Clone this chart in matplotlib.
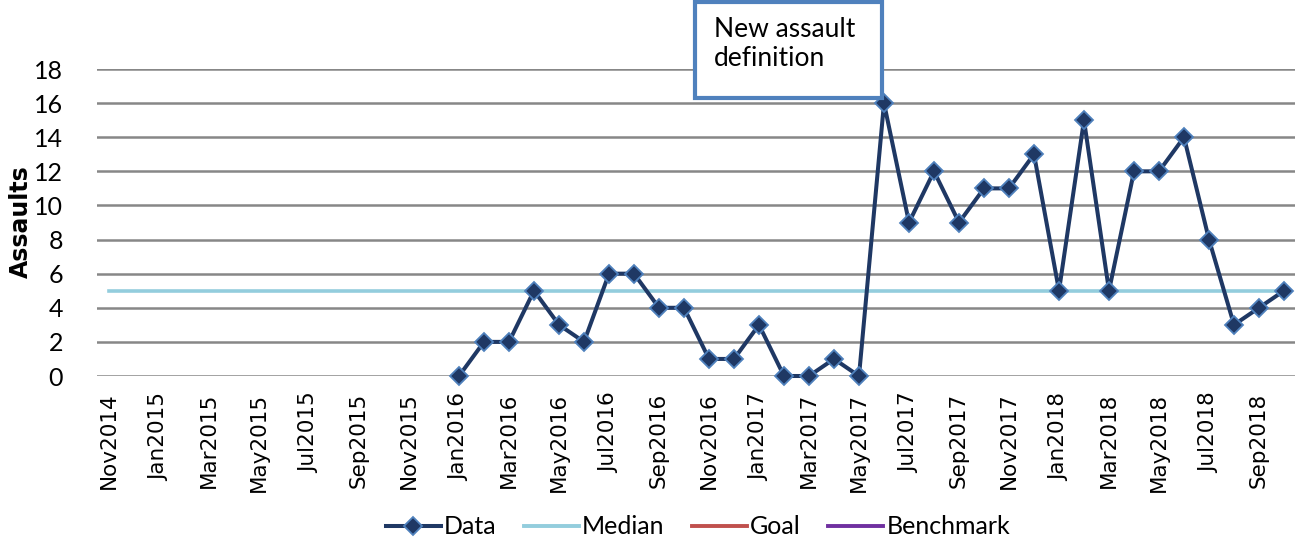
import numpy as np
import matplotlib.pyplot as plt
from matplotlib.patches import Rectangle
from matplotlib.lines import Line2D

# bulan Nov2014 .. Oct2018
month_names = ["Jan", "Feb", "Mar", "Apr", "May", "Jun", "Jul", "Aug", "Sep", "Oct", "Nov", "Dec"]
months = ["Nov2014", "Dec2014"]
for yr in (2015, 2016, 2017):
    months += [f"{m}{yr}" for m in month_names]
months += [f"{m}2018" for m in month_names[:10]]

# data mulai Jan2016 (14 bulan pertama kosong)
assaults = [np.nan] * 14 + [
    0, 2, 2, 5, 3, 2, 6, 6, 4, 4, 1, 1,      # 2016
    3, 0, 0, 1, 0, 16, 9, 12, 9, 11, 11, 13,  # 2017
    5, 15, 5, 12, 12, 14, 8, 3, 4, 5,         # 2018
]
median_value = 5
yticks = list(range(0, 20, 2))

label_font = "Lato"
navy = "#1F3864"
edge_blue = "#4F81BD"
median_col = "#93CDDD"
goal_col = "#C0504D"
bench_col = "#7030A0"

fig = plt.figure(figsize=(12.95, 5.43), dpi=100)
ax = fig.add_axes([96.5 / 1295, 1 - 376 / 543, 1200 / 1295, 307 / 543])

x = np.arange(len(months))
ax.plot(x, [median_value] * len(months), color=median_col, lw=2.6, zorder=2)
ax.plot(x, assaults, color=navy, lw=2.9, marker="D", markersize=9,
        markerfacecolor=navy, markeredgecolor=edge_blue, markeredgewidth=1.3,
        zorder=3, clip_on=False)

ax.set_xlim(-0.5, len(months) - 0.5)
ax.set_ylim(0, 18)
ax.set_yticks(yticks)
ax.set_yticklabels([str(v) for v in yticks], fontsize=18, family=label_font)
ax.set_xticks(x[::2])
ax.set_xticklabels(months[::2], rotation=90, fontsize=15.5, family="DejaVu Sans")
ax.tick_params(axis="y", length=0, pad=24)
ax.tick_params(axis="x", length=0, pad=12)
for s in ax.spines.values():
    s.set_visible(False)
ax.grid(axis="y", color="#878787", lw=1.8, zorder=0)
ax.set_axisbelow(True)

fig.text(21 / 1295, 1 - 222 / 543, "Assaults", rotation=90, fontsize=17,
         fontweight="bold", family="DejaVu Sans", ha="center", va="center")

# kotak anotasi
box = Rectangle((695 / 1295, 1 - 98 / 543), 187 / 1295, 96 / 543,
                transform=fig.transFigure, facecolor="white", edgecolor=edge_blue,
                lw=3, zorder=10)
fig.add_artist(box)
fig.text(714 / 1295, 1 - 17 / 543, "New assault\ndefinition", fontsize=19,
         family=label_font, ha="left", va="top", linespacing=1.22, zorder=11)

handles = [
    Line2D([], [], color=navy, lw=2.9, marker="D", markersize=9,
           markerfacecolor=navy, markeredgecolor=edge_blue, markeredgewidth=1.3),
    Line2D([], [], color=median_col, lw=2.8),
    Line2D([], [], color=goal_col, lw=2.8),
    Line2D([], [], color=bench_col, lw=2.8),
]
fig.legend(handles, ["Data", "Median", "Goal", "Benchmark"], loc="center",
           bbox_to_anchor=(0.539, 1 - 527 / 543), ncol=4, frameon=False,
           prop={"family": label_font, "size": 18}, handlelength=2.2,
           handletextpad=0.12, columnspacing=1.1, borderpad=0)

fig.savefig("out.png", dpi=100)
